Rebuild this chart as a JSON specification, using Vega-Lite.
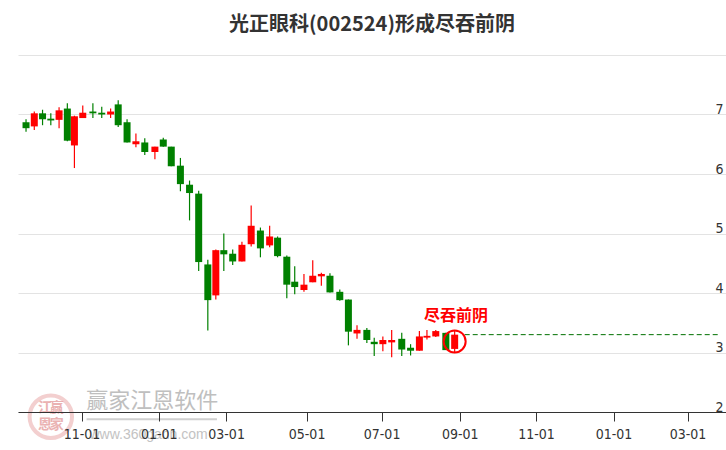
{
  "$schema": "https://vega.github.io/schema/vega-lite/v6.json",
  "width": 708,
  "height": 357,
  "autosize": {"type": "none"},
  "padding": {"left": 18, "top": 55, "right": 0, "bottom": 38},
  "background": "white",
  "title": {
    "text": "光正眼科(002524)形成尽吞前阴",
    "font": "Noto Sans CJK SC",
    "fontSize": 20,
    "fontWeight": "bold",
    "color": "#333333",
    "anchor": "middle",
    "offset": 8
  },
  "config": {
    "view": {"stroke": null},
    "axis": {"labelOverlap": false, "labelFlush": false}
  },
  "datasets": {
    "candles": [
      {"d": "2021-09-15", "o": 6.87, "h": 6.92, "l": 6.71, "c": 6.77},
      {"d": "2021-09-22", "o": 6.80, "h": 7.05, "l": 6.74, "c": 7.02},
      {"d": "2021-09-29", "o": 7.02, "h": 7.08, "l": 6.82, "c": 6.92},
      {"d": "2021-10-06", "o": 6.93, "h": 7.02, "l": 6.82, "c": 6.90},
      {"d": "2021-10-13", "o": 6.91, "h": 7.12, "l": 6.77, "c": 7.07},
      {"d": "2021-10-20", "o": 7.10, "h": 7.19, "l": 6.55, "c": 6.56},
      {"d": "2021-10-26", "o": 6.48, "h": 6.98, "l": 6.10, "c": 6.97},
      {"d": "2021-11-02", "o": 6.94, "h": 7.15, "l": 6.94, "c": 7.03},
      {"d": "2021-11-10", "o": 7.05, "h": 7.19, "l": 6.94, "c": 7.02},
      {"d": "2021-11-17", "o": 7.03, "h": 7.13, "l": 6.94, "c": 7.00},
      {"d": "2021-11-24", "o": 7.00, "h": 7.10, "l": 6.94, "c": 7.05},
      {"d": "2021-11-30", "o": 7.17, "h": 7.24, "l": 6.79, "c": 6.82},
      {"d": "2021-12-07", "o": 6.87, "h": 6.92, "l": 6.53, "c": 6.53},
      {"d": "2021-12-14", "o": 6.50, "h": 6.68, "l": 6.45, "c": 6.55},
      {"d": "2021-12-21", "o": 6.53, "h": 6.60, "l": 6.32, "c": 6.37},
      {"d": "2021-12-29", "o": 6.37, "h": 6.46, "l": 6.25, "c": 6.46},
      {"d": "2022-01-05", "o": 6.58, "h": 6.61, "l": 6.46, "c": 6.46},
      {"d": "2022-01-12", "o": 6.46, "h": 6.46, "l": 6.13, "c": 6.13},
      {"d": "2022-01-20", "o": 6.14, "h": 6.27, "l": 5.71, "c": 5.83},
      {"d": "2022-01-28", "o": 5.82, "h": 5.89, "l": 5.22, "c": 5.68},
      {"d": "2022-02-05", "o": 5.67, "h": 5.72, "l": 4.37, "c": 4.52},
      {"d": "2022-02-13", "o": 4.48, "h": 4.56, "l": 3.37, "c": 3.88},
      {"d": "2022-02-20", "o": 3.96, "h": 4.73, "l": 3.89, "c": 4.72},
      {"d": "2022-02-27", "o": 4.72, "h": 5.00, "l": 4.37, "c": 4.65},
      {"d": "2022-03-06", "o": 4.66, "h": 4.73, "l": 4.47, "c": 4.53},
      {"d": "2022-03-13", "o": 4.53, "h": 4.86, "l": 4.53, "c": 4.81},
      {"d": "2022-03-20", "o": 4.82, "h": 5.47, "l": 4.78, "c": 5.13},
      {"d": "2022-03-27", "o": 5.05, "h": 5.10, "l": 4.60, "c": 4.75},
      {"d": "2022-04-03", "o": 4.80, "h": 5.13, "l": 4.77, "c": 4.95},
      {"d": "2022-04-09", "o": 4.93, "h": 4.95, "l": 4.60, "c": 4.62},
      {"d": "2022-04-16", "o": 4.61, "h": 4.63, "l": 3.91, "c": 4.14},
      {"d": "2022-04-22", "o": 4.19, "h": 4.45, "l": 3.98, "c": 4.10},
      {"d": "2022-04-29", "o": 4.05, "h": 4.32, "l": 4.02, "c": 4.14},
      {"d": "2022-05-06", "o": 4.18, "h": 4.55, "l": 4.18, "c": 4.29},
      {"d": "2022-05-13", "o": 4.28, "h": 4.34, "l": 4.12, "c": 4.32},
      {"d": "2022-05-20", "o": 4.29, "h": 4.33, "l": 4.01, "c": 4.01},
      {"d": "2022-05-28", "o": 4.02, "h": 4.06, "l": 3.87, "c": 3.88},
      {"d": "2022-06-04", "o": 3.89, "h": 3.89, "l": 3.12, "c": 3.35},
      {"d": "2022-06-11", "o": 3.32, "h": 3.46, "l": 3.23, "c": 3.38},
      {"d": "2022-06-19", "o": 3.38, "h": 3.41, "l": 3.16, "c": 3.21},
      {"d": "2022-06-25", "o": 3.18, "h": 3.25, "l": 2.94, "c": 3.14},
      {"d": "2022-07-02", "o": 3.14, "h": 3.27, "l": 3.02, "c": 3.21},
      {"d": "2022-07-09", "o": 3.17, "h": 3.38, "l": 2.92, "c": 3.21},
      {"d": "2022-07-17", "o": 3.23, "h": 3.33, "l": 2.94, "c": 3.05},
      {"d": "2022-07-24", "o": 3.08, "h": 3.14, "l": 2.95, "c": 3.03},
      {"d": "2022-07-31", "o": 3.03, "h": 3.36, "l": 3.03, "c": 3.27},
      {"d": "2022-08-06", "o": 3.25, "h": 3.38, "l": 3.22, "c": 3.28},
      {"d": "2022-08-13", "o": 3.27, "h": 3.38, "l": 3.26, "c": 3.36},
      {"d": "2022-08-21", "o": 3.33, "h": 3.33, "l": 3.04, "c": 3.04},
      {"d": "2022-08-28", "o": 3.06, "h": 3.36, "l": 3.00, "c": 3.30}
    ],
    "level": [{"x1": "2022-09-05", "x2": "2023-03-31", "v": 3.30}],
    "note": [{"d": "2022-08-29", "v": 3.62, "t": "尽吞前阴"}],
    "ring": [{"d": "2022-08-28", "v": 3.186}],
    "wmText": [{"d": "2021-12-27", "v": 2.19, "t": "赢家江恩软件"}],
    "wmUrl": [{"d": "2021-12-24", "v": 1.62, "t": "www.360gann.com"}],
    "wmLine": [{"x1": "2021-11-05", "x2": "2022-02-21", "v": 1.88}],
    "wmLogo": [{"d": "2021-10-06", "v": 1.92}],
    "wmLogoText": [
      {"d": "2021-10-01", "v": 2.07, "t": "江"},
      {"d": "2021-10-11", "v": 2.07, "t": "赢"},
      {"d": "2021-10-01", "v": 1.78, "t": "恩"},
      {"d": "2021-10-11", "v": 1.78, "t": "家"}
    ]
  },
  "layer": [
    {
      "data": {"name": "candles", "format": {"parse": {"d": "date"}}},
      "mark": {"type": "rule", "strokeWidth": 1.2},
      "encoding": {
        "x": {
          "field": "d",
          "type": "quantitative",
          "title": null,
          "scale": {
            "type": "linear",
            "nice": false,
            "zero": false,
            "domain": [1631426400000, 1635724800000, 1640995200000, 1646092800000, 1651363200000, 1656633600000, 1661990400000, 1667260800000, 1672531200000, 1677628800000, 1680289200000],
            "range": [0, 63.5, 140.7, 208.1, 288.6, 363.6, 441.7, 518, 595.5, 669.5, 708]
          },
          "axis": {
            "values": [1635724800000, 1640995200000, 1646092800000, 1651363200000, 1656633600000, 1661990400000, 1667260800000, 1672531200000, 1677628800000],
            "labelExpr": "utcFormat(datum.value, '%m-%d')",
            "grid": false,
            "domainColor": "#333333",
            "domainWidth": 1,
            "tickColor": "#333333",
            "tickSize": 9,
            "labelPadding": 6,
            "labelFont": "Liberation Sans Narrow, DejaVu Sans Condensed, Liberation Sans",
            "labelFontSize": 14,
            "labelColor": "#333333",
            "zindex": 1
          }
        },
        "y": {
          "field": "l",
          "type": "quantitative",
          "title": null,
          "scale": {"domain": [2, 8], "nice": false, "zero": false},
          "axis": {
            "orient": "right",
            "values": [2, 3, 4, 5, 6, 7, 8],
            "format": "d",
            "labelExpr": "datum.value == 8 ? '' : datum.label",
            "grid": true,
            "gridColor": "#e3e3e3",
            "gridWidth": 1,
            "domain": false,
            "ticks": false,
            "labelAlign": "right",
            "labelBaseline": "alphabetic",
            "labelPadding": -3,
            "labelOffset": -1,
            "labelFont": "Liberation Sans Narrow, DejaVu Sans Condensed, Liberation Sans",
            "labelFontSize": 14,
            "labelColor": "#333333"
          }
        },
        "y2": {"field": "h"},
        "color": {
          "condition": {"test": "datum.c >= datum.o", "value": "#ff0000"},
          "value": "#008000"
        }
      }
    },
    {
      "data": {"name": "candles", "format": {"parse": {"d": "date"}}},
      "mark": {"type": "bar", "width": 7},
      "encoding": {
        "x": {"field": "d", "type": "quantitative", "title": null},
        "y": {"field": "o", "type": "quantitative", "title": null},
        "y2": {"field": "c"},
        "color": {
          "condition": {"test": "datum.c >= datum.o", "value": "#ff0000"},
          "value": "#008000"
        }
      }
    },
    {
      "data": {"name": "level", "format": {"parse": {"x1": "date", "x2": "date"}}},
      "mark": {"type": "rule", "color": "#007000", "strokeWidth": 1, "strokeDash": [5, 3]},
      "encoding": {
        "x": {"field": "x1", "type": "quantitative", "title": null},
        "x2": {"field": "x2"},
        "y": {"field": "v", "type": "quantitative", "title": null}
      }
    },
    {
      "data": {"name": "ring", "format": {"parse": {"d": "date"}}},
      "mark": {"type": "point", "shape": "circle", "filled": false, "size": 484, "stroke": "#ff0000", "strokeWidth": 2, "opacity": 1},
      "encoding": {
        "x": {"field": "d", "type": "quantitative", "title": null},
        "y": {"field": "v", "type": "quantitative", "title": null}
      }
    },
    {
      "data": {"name": "note", "format": {"parse": {"d": "date"}}},
      "mark": {"type": "text", "font": "Noto Sans CJK SC", "fontSize": 16, "fontWeight": "bold", "color": "#ff0000", "align": "center", "baseline": "middle"},
      "encoding": {
        "x": {"field": "d", "type": "quantitative", "title": null},
        "y": {"field": "v", "type": "quantitative", "title": null},
        "text": {"field": "t"}
      }
    },
    {
      "data": {"name": "wmLogo", "format": {"parse": {"d": "date"}}},
      "mark": {"type": "point", "shape": "circle", "filled": false, "size": 1800, "stroke": "#eebcbc", "strokeWidth": 4, "opacity": 0.7},
      "encoding": {
        "x": {"field": "d", "type": "quantitative", "title": null},
        "y": {"field": "v", "type": "quantitative", "title": null}
      }
    },
    {
      "data": {"name": "wmLogoText", "format": {"parse": {"d": "date"}}},
      "mark": {"type": "text", "font": "Noto Sans CJK SC", "fontSize": 14, "fontWeight": "bold", "color": "#e6a0a0", "opacity": 0.8, "align": "center", "baseline": "middle"},
      "encoding": {
        "x": {"field": "d", "type": "quantitative", "title": null},
        "y": {"field": "v", "type": "quantitative", "title": null},
        "text": {"field": "t"}
      }
    },
    {
      "data": {"name": "wmText", "format": {"parse": {"d": "date"}}},
      "mark": {"type": "text", "font": "Noto Sans CJK SC", "fontSize": 22, "color": "#b4b4b4", "opacity": 0.85, "align": "center", "baseline": "middle"},
      "encoding": {
        "x": {"field": "d", "type": "quantitative", "title": null},
        "y": {"field": "v", "type": "quantitative", "title": null},
        "text": {"field": "t"}
      }
    },
    {
      "data": {"name": "wmLine", "format": {"parse": {"x1": "date", "x2": "date"}}},
      "mark": {"type": "rule", "color": "#c4c4c4", "strokeWidth": 2, "opacity": 0.8},
      "encoding": {
        "x": {"field": "x1", "type": "quantitative", "title": null},
        "x2": {"field": "x2"},
        "y": {"field": "v", "type": "quantitative", "title": null}
      }
    },
    {
      "data": {"name": "wmUrl", "format": {"parse": {"d": "date"}}},
      "mark": {"type": "text", "font": "Liberation Sans", "fontSize": 14, "color": "#b4b4b4", "opacity": 0.8, "align": "center", "baseline": "middle"},
      "encoding": {
        "x": {"field": "d", "type": "quantitative", "title": null},
        "y": {"field": "v", "type": "quantitative", "title": null},
        "text": {"field": "t"}
      }
    }
  ]
}
